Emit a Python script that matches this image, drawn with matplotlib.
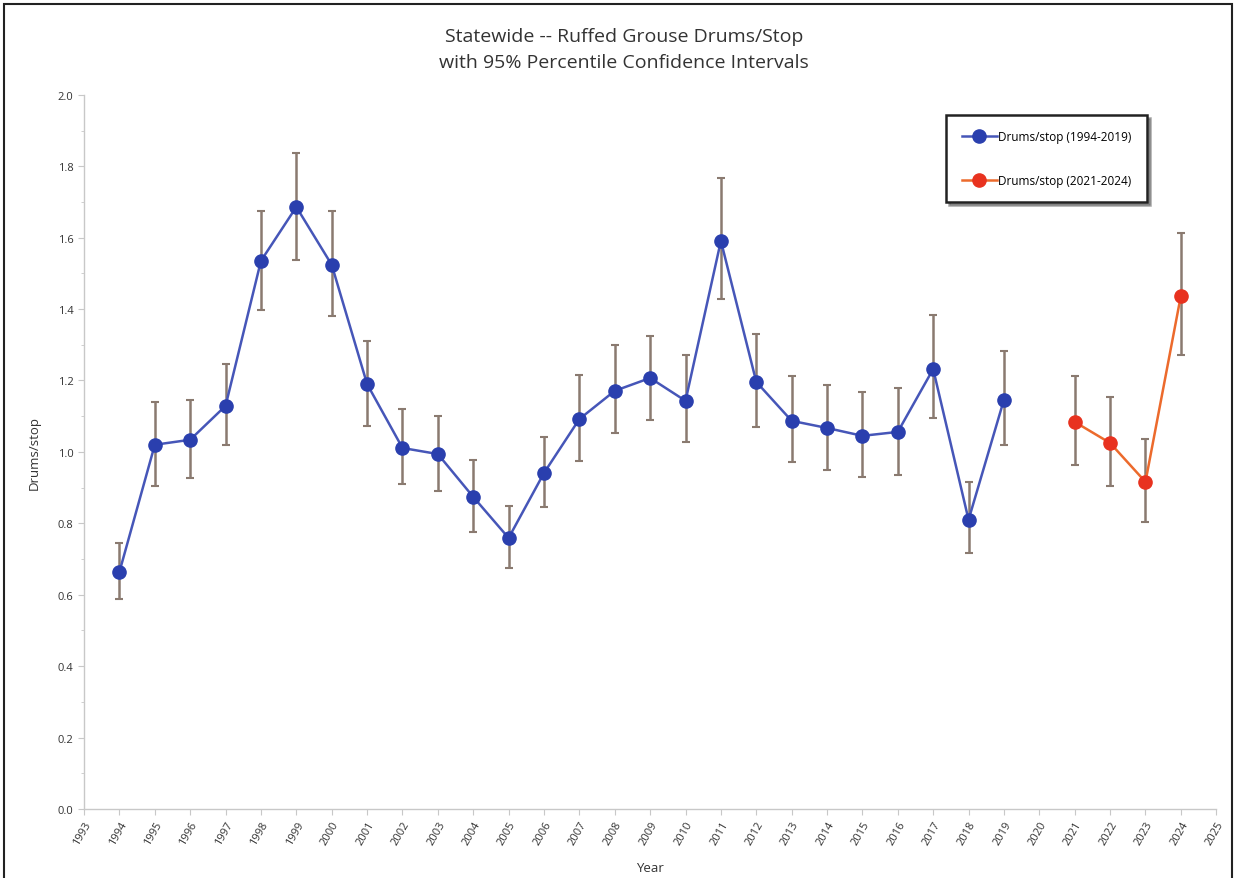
import matplotlib.pyplot as plt
from matplotlib.patches import Rectangle
from matplotlib.ticker import MultipleLocator

# ── Data ──────────────────────────────────────────────────
years_a = list(range(1994, 2020))
drums_a = [0.664, 1.020, 1.034, 1.129, 1.535, 1.686, 1.524, 1.190, 1.011, 0.994,
           0.874, 0.759, 0.941, 1.092, 1.171, 1.207, 1.143, 1.591, 1.196, 1.087,
           1.067, 1.045, 1.056, 1.232, 0.810, 1.146]
upper_a = [0.745, 1.140, 1.146, 1.247, 1.675, 1.838, 1.675, 1.311, 1.120, 1.101,
           0.978, 0.849, 1.042, 1.216, 1.300, 1.325, 1.272, 1.767, 1.331, 1.213,
           1.188, 1.168, 1.179, 1.384, 0.916, 1.283]
lower_a = [0.588, 0.905, 0.927, 1.020, 1.398, 1.538, 1.381, 1.073, 0.910, 0.891,
           0.776, 0.675, 0.846, 0.975, 1.053, 1.090, 1.028, 1.429, 1.070, 0.972,
           0.950, 0.930, 0.936, 1.095, 0.717, 1.020]

years_b = [2021, 2022, 2023, 2024]
drums_b = [1.084, 1.025, 0.916, 1.437]
upper_b = [1.213, 1.154, 1.036, 1.613]
lower_b = [0.964, 0.905, 0.804, 1.272]

BLUE = "#2a3fae"
BLUE_LINE = "#4656b8"
RED = "#e8321f"
RED_LINE = "#ec6a2c"
ERR = "#8a7a70"
AXIS = "#c8c8c8"
TEXT = "#333333"

plt.rcParams["font.family"] = ["Open Sans", "DejaVu Sans"]

fig = plt.figure(figsize=(12.36, 8.79), dpi=100, facecolor="white")
ax = fig.add_axes([0.068, 0.0785, 0.916, 0.8125])

# figure frame
fig.patches.append(Rectangle((0.003, -0.01), 0.994, 1.004, transform=fig.transFigure,
                             fill=False, edgecolor="#222222", linewidth=1.5))


def draw_series(x, y, lo, hi, mcolor, lcolor, label):
    yerr = [[v - l for v, l in zip(y, lo)], [h - v for v, h in zip(y, hi)]]
    ax.errorbar(x, y, yerr=yerr, fmt="none", ecolor=ERR, elinewidth=1.8,
                capsize=3, capthick=1.5, zorder=2)
    ax.plot(x, y, color=lcolor, linewidth=1.8, marker="o", markersize=9.5,
            markerfacecolor=mcolor, markeredgecolor=mcolor, label=label, zorder=3)


draw_series(years_a, drums_a, lower_a, upper_a, BLUE, BLUE_LINE, "Drums/stop (1994-2019)")
draw_series(years_b, drums_b, lower_b, upper_b, RED, RED_LINE, "Drums/stop (2021-2024)")

ax.set_xlim(1993, 2025)
ax.set_ylim(0, 2.0)
ax.xaxis.set_major_locator(MultipleLocator(1))
ax.yaxis.set_major_locator(MultipleLocator(0.2))
ax.yaxis.set_minor_locator(MultipleLocator(0.1))
ax.yaxis.set_major_formatter(plt.FormatStrFormatter("%.1f"))

for side in ["top", "right"]:
    ax.spines[side].set_visible(False)
for side in ["left", "bottom"]:
    ax.spines[side].set_color(AXIS)
    ax.spines[side].set_linewidth(1.0)

ax.tick_params(axis="both", which="both", colors=AXIS, labelcolor=TEXT, labelsize=8)
ax.tick_params(axis="both", which="major", length=4)
ax.tick_params(axis="y", which="minor", length=2)
plt.setp(ax.get_xticklabels(), rotation=60, ha="right", rotation_mode="anchor")

ax.set_xlabel("Year", fontsize=9.5, color=TEXT, labelpad=10)
ax.set_ylabel("Drums/stop", fontsize=9.5, color=TEXT, labelpad=12)

fig.text(0.505, 0.958, "Statewide -- Ruffed Grouse Drums/Stop", ha="center", va="center",
         fontsize=14, color=TEXT)
fig.text(0.505, 0.928, "with 95% Percentile Confidence Intervals", ha="center", va="center",
         fontsize=14, color=TEXT)

leg = ax.legend(loc="upper right", bbox_to_anchor=(0.944, 0.98), fontsize=8.5,
                frameon=True, fancybox=False, shadow=True, borderpad=1.3,
                labelspacing=2.6, handlelength=3.0, handletextpad=0.1)
leg.get_frame().set_edgecolor("#222222")
leg.get_frame().set_linewidth(1.8)

fig.savefig("out.png", dpi=100, facecolor="white")
